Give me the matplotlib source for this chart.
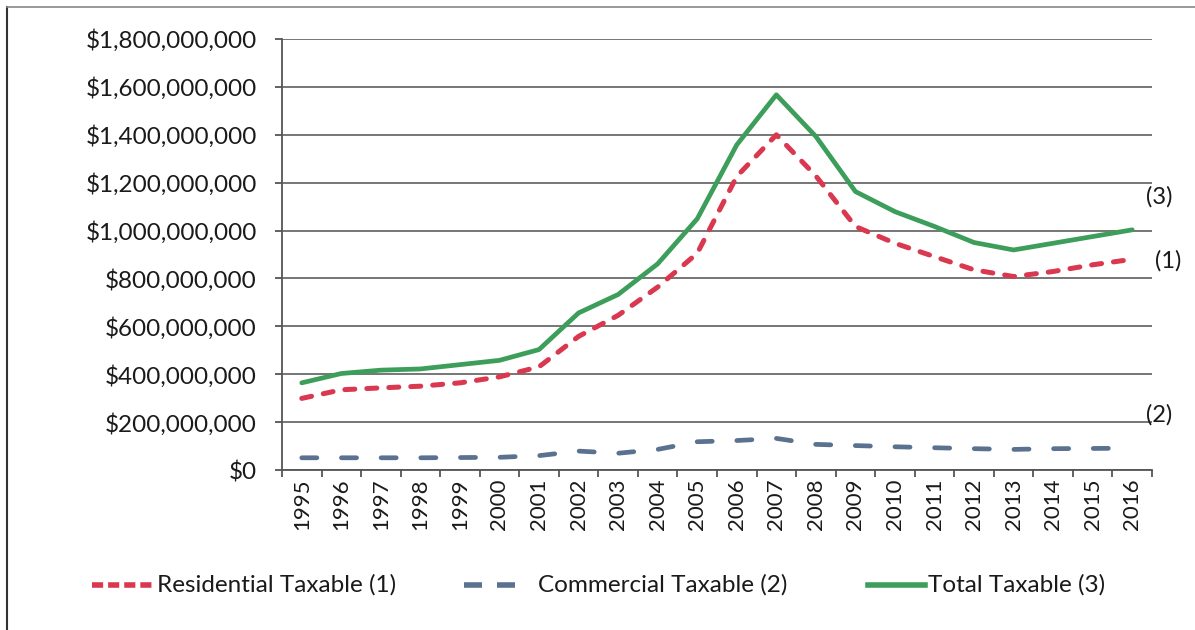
import matplotlib
matplotlib.use("Agg")
import matplotlib.pyplot as plt
from matplotlib.lines import Line2D
from matplotlib.ticker import FuncFormatter, FixedLocator

years = [str(y) for y in range(1995, 2017)]

residential = [299, 335, 343, 350, 364, 389, 431, 558, 646, 764, 905, 1226,
               1400, 1228, 1017, 947, 891, 836, 808, 829, 857, 880]
commercial = [51, 51, 51, 51, 52, 53, 60, 79, 70, 86, 118, 123,
              132, 107, 102, 97, 93, 89, 86, 89, 90, 91]
total = [364, 403, 417, 422, 440, 458, 503, 656, 733, 861, 1049, 1358,
         1567, 1393, 1163, 1079, 1017, 950, 919, 947, 975, 1003]

series_labels = ["Residential Taxable (1)", "Commercial Taxable (2)", "Total Taxable (3)"]

M = 1_000_000
W, H = 1195, 630
plt.rcParams['font.family'] = ['Lato', 'DejaVu Sans']
TXT = "#1a1a1a"

fig = plt.figure(figsize=(W / 100, H / 100), dpi=100)
ax = fig.add_axes([282 / W, 1 - 470 / H, 870 / W, 431 / H])

x = list(range(len(years)))
red = "#d9384f"
blue = "#5a7290"
green = "#3c9e5a"

ax.plot(x, [v * M for v in total], color=green, lw=3.4, solid_capstyle="round", zorder=3)
ax.plot(x, [v * M for v in residential], color=red, lw=3.6, dashes=(2.0, 2.4),
        dash_capstyle="round", zorder=4)
ax.plot(x, [v * M for v in commercial], color=blue, lw=3.4, dashes=(3.2, 5.2),
        dash_capstyle="round", zorder=4)

ax.set_xlim(-0.5, len(years) - 0.5)
ax.set_ylim(0, 1_800_000_000)
ax.set_yticks([i * 200_000_000 for i in range(10)])
ax.yaxis.set_major_formatter(FuncFormatter(lambda v, p: "${:,.0f}".format(v)))
ax.set_xticks(x)
ax.set_xticklabels(years, rotation=90, fontsize=16, color=TXT)
ax.tick_params(axis="x", length=0, pad=6)
ax.xaxis.set_minor_locator(FixedLocator([i - 0.5 for i in range(len(years) + 1)]))
ax.tick_params(axis="x", which="minor", length=5, width=1.3, color="#555555")
ax.tick_params(axis="y", length=5, width=1.3, color="#555555", labelsize=17.5,
               labelcolor=TXT, pad=13)

ax.grid(axis="y", color="#6b6b6b", lw=1.3)
ax.set_axisbelow(True)
for side in ["top", "right"]:
    ax.spines[side].set_visible(False)
for side in ["left", "bottom"]:
    ax.spines[side].set_color("#555555")
    ax.spines[side].set_linewidth(1.3)

# series tags at the right end
for tag, px, py in [("(3)", 1146, 197), ("(1)", 1155, 261), ("(2)", 1146, 415)]:
    fig.text(px / W, 1 - py / H, tag, fontsize=17, va="center", ha="left", color=TXT)

# legend row, laid out by hand
legend_y = 1 - 585 / H
legend_items = [
    (series_labels[0], dict(color=red, lw=4.0, dashes=(2.0, 0.9), dash_capstyle="butt"), 92, 152, 157),
    (series_labels[1], dict(color=blue, lw=4.0, dashes=(3.24, 2.7), dash_capstyle="butt"), 464, 515, 538),
    (series_labels[2], dict(color=green, lw=4.0), 868, 925, 928),
]
for label, style, x0, x1, tx in legend_items:
    fig.add_artist(Line2D([x0 / W, x1 / W], [legend_y, legend_y], transform=fig.transFigure, **style))
    fig.text(tx / W, legend_y, label, fontsize=17.5, va="center", ha="left", color=TXT)

# outer frame (left and top edges)
fig.add_artist(Line2D([7 / W, 7 / W], [0, 1 - 7 / H], transform=fig.transFigure,
                      color="#333333", lw=1.5))
fig.add_artist(Line2D([7 / W, 1], [1 - 7 / H, 1 - 7 / H], transform=fig.transFigure,
                      color="#888888", lw=1.2))

fig.savefig("out.png", dpi=100)
